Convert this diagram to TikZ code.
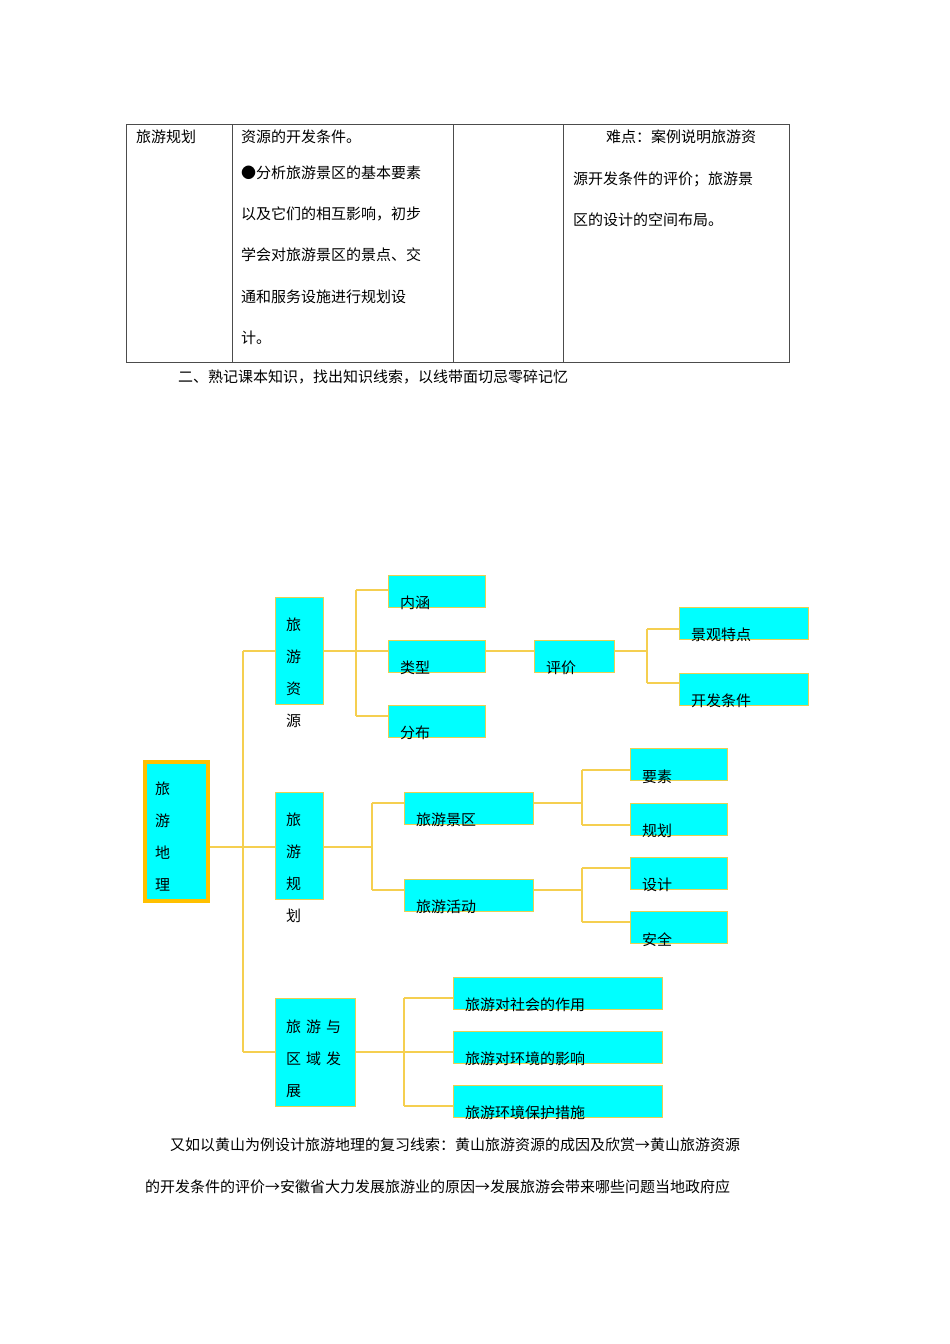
\documentclass[tikz,border=0pt]{standalone}
\usepackage{fontspec}
\setmainfont{Noto Sans CJK SC}
\begin{document}
\begin{tikzpicture}[x=1pt,y=-1pt,
  every node/.style={font=\fontsize{15}{18}\selectfont},
  txt/.style={anchor=west,inner sep=0pt},
  cbox/.style={draw=boxline,fill=cyanfill,line width=1pt},
  conn/.style={draw=lineyel,line width=1.2pt},
  tline/.style={draw=black!70,line width=0.8pt}]
\definecolor{cyanfill}{HTML}{00FFFF}
\definecolor{boxline}{HTML}{E8D050}
\definecolor{lineyel}{HTML}{F5CF50}
\definecolor{rootline}{HTML}{FFC000}
\useasboundingbox (0,0) rectangle (950,1344);
\fill[white] (0,0) rectangle (950,1344);
% table
\draw[tline] (126,124) rectangle (789,362);
\draw[tline] (232,124) -- (232,362) (453,124) -- (453,362) (563,124) -- (563,362);
\node[txt] (t1) at (136,137) {旅游规划};
\node[txt] (t2) at (241,137) {资源的开发条件。};
\node[txt] (t3) at (241,173) {●分析旅游景区的基本要素};
\node[txt] (t4) at (241,214) {以及它们的相互影响，初步};
\node[txt] (t5) at (241,255) {学会对旅游景区的景点、交};
\node[txt] (t6) at (241,297) {通和服务设施进行规划设};
\node[txt] (t7) at (241,338) {计。};
\node[txt] (t8) at (606,137) {难点：案例说明旅游资};
\node[txt] (t9) at (573,179) {源开发条件的评价；旅游景};
\node[txt] (t10) at (573,220) {区的设计的空间布局。};
\node[txt] (h2) at (178,377) {二、熟记课本知识，找出知识线索，以线带面切忌零碎记忆};
% connectors
\draw[conn] (209,847) -- (243,847) (243,651) -- (243,1052)
  (243,651) -- (275,651) (243,847) -- (275,847) (243,1052) -- (275,1052);
\draw[conn] (323,651) -- (388,651) (356,590) -- (356,716) (356,590) -- (388,590) (356,716) -- (388,716);
\draw[conn] (485,651) -- (534,651) (614,651) -- (647,651) (647,629) -- (647,683) (647,629) -- (679,629) (647,683) -- (679,683);
\draw[conn] (323,847) -- (372,847) (372,803) -- (372,890) (372,803) -- (404,803) (372,890) -- (404,890);
\draw[conn] (533,803) -- (582,803) (582,770) -- (582,825) (582,770) -- (630,770) (582,825) -- (630,825);
\draw[conn] (533,890) -- (582,890) (582,868) -- (582,922) (582,868) -- (630,868) (582,922) -- (630,922);
\draw[conn] (355,1052) -- (404,1052) (404,998) -- (404,1106) (404,998) -- (453,998) (404,1106) -- (453,1106) (404,1052) -- (453,1052);
% boxes
\draw[cyanfill,fill=cyanfill,draw=rootline,line width=4pt] (145,762) rectangle (208,901);
\node[txt] (r1) at (155,789) {旅}; \node[txt] (r2) at (155,821) {游};
\node[txt] (r3) at (155,853) {地}; \node[txt] (r4) at (155,885) {理};
\draw[cbox] (275,597) rectangle (323,704);
\node[txt] (a1) at (286,625) {旅}; \node[txt] (a2) at (286,657) {游};
\node[txt] (a3) at (286,689) {资}; \node[txt] (a4) at (286,721) {源};
\draw[cbox] (275,792) rectangle (323,899);
\node[txt] (b1) at (286,820) {旅}; \node[txt] (b2) at (286,852) {游};
\node[txt] (b3) at (286,884) {规}; \node[txt] (b4) at (286,916) {划};
\draw[cbox] (275,998) rectangle (355,1106);
\node[txt] (c1) at (286,1027) {旅\,\,游\,\,与}; \node[txt] (c2) at (286,1059) {区\,\,域\,\,发};
\node[txt] (c3) at (286,1091) {展};
\draw[cbox] (388,575) rectangle (485,607); \node[txt] (n1) at (400,603) {内涵};
\draw[cbox] (388,640) rectangle (485,672); \node[txt] (n2) at (400,668) {类型};
\draw[cbox] (388,705) rectangle (485,737); \node[txt] (n3) at (400,733) {分布};
\draw[cbox] (534,640) rectangle (614,672); \node[txt] (n4) at (546,668) {评价};
\draw[cbox] (679,607) rectangle (808,639); \node[txt] (n5) at (691,635) {景观特点};
\draw[cbox] (679,673) rectangle (808,705); \node[txt] (n6) at (691,701) {开发条件};
\draw[cbox] (404,792) rectangle (533,824); \node[txt] (n7) at (416,820) {旅游景区};
\draw[cbox] (404,879) rectangle (533,911); \node[txt] (n8) at (416,907) {旅游活动};
\draw[cbox] (630,748) rectangle (727,780); \node[txt] (n9) at (642,777) {要素};
\draw[cbox] (630,803) rectangle (727,835); \node[txt] (n10) at (642,831) {规划};
\draw[cbox] (630,857) rectangle (727,889); \node[txt] (n11) at (642,885) {设计};
\draw[cbox] (630,911) rectangle (727,943); \node[txt] (n12) at (642,940) {安全};
\draw[cbox] (453,977) rectangle (662,1009); \node[txt] (n13) at (465,1005) {旅游对社会的作用};
\draw[cbox] (453,1031) rectangle (662,1063); \node[txt] (n14) at (465,1059) {旅游对环境的影响};
\draw[cbox] (453,1085) rectangle (662,1117); \node[txt] (n15) at (465,1113) {旅游环境保护措施};
% paragraph
\node[txt] (p1) at (170,1145) {又如以黄山为例设计旅游地理的复习线索：黄山旅游资源的成因及欣赏→黄山旅游资源};
\node[txt] (p2) at (145,1187) {的开发条件的评价→安徽省大力发展旅游业的原因→发展旅游会带来哪些问题当地政府应};
\end{tikzpicture}
\end{document}
